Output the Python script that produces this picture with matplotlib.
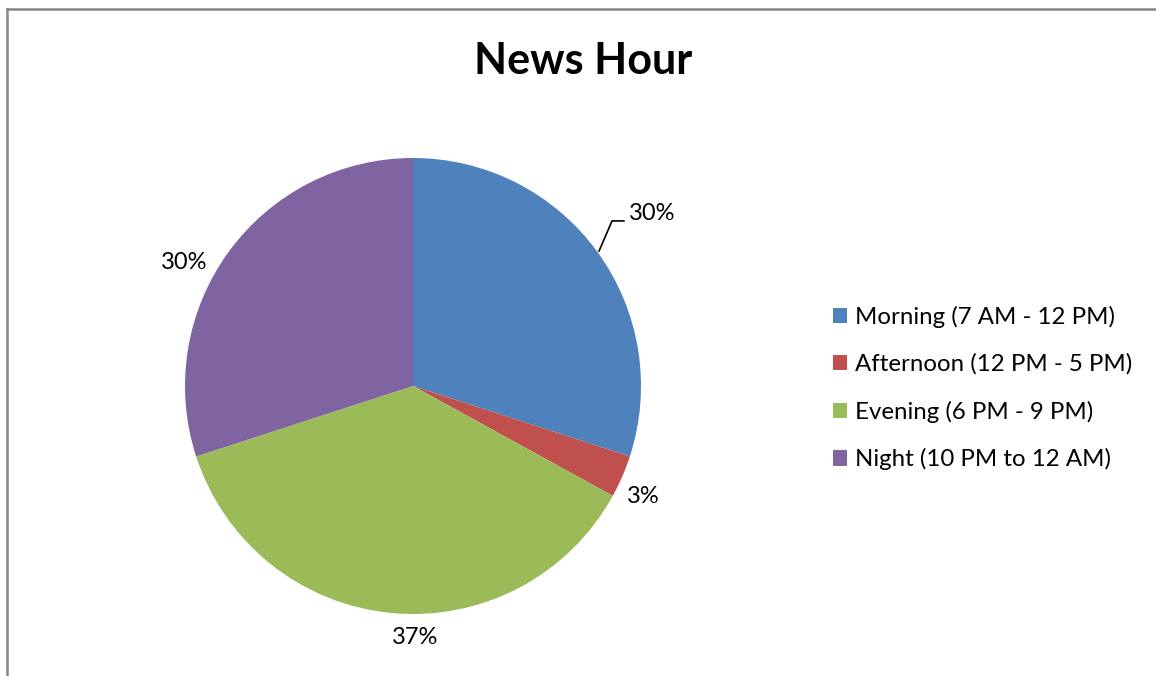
import matplotlib.pyplot as plt
from matplotlib.lines import Line2D
from matplotlib.patches import Patch

categories = ["Morning (7 AM - 12 PM)", "Afternoon (12 PM - 5 PM)",
              "Evening (6 PM - 9 PM)", "Night (10 PM to 12 AM)"]
shares = [30, 3, 37, 30]
colors = ["#4F81BD", "#C0504D", "#9BBB59", "#8064A2"]

# where each percentage label sits, in pie data units
label_pos = [(1.05, 0.755), (1.01, -0.485), (0.01, -1.105), (-1.005, 0.54)]

W, H = 1156, 676
plt.rcParams["font.family"] = ["Lato", "DejaVu Sans"]

fig = plt.figure(figsize=(W / 100, H / 100), dpi=100)

cx, cy, r = 413, 386, 228
ax = fig.add_axes([(cx - r - 40) / W, (H - cy - r - 40) / H,
                   2 * (r + 40) / W, 2 * (r + 40) / H])
ax.pie(shares, colors=colors, startangle=90, counterclock=False,
       radius=1.0, wedgeprops=dict(linewidth=0))
lim = (r + 40) / r
ax.set_xlim(-lim, lim)
ax.set_ylim(-lim, lim)
ax.set_aspect("equal")
ax.axis("off")

total = sum(shares)
for v, (lx, ly) in zip(shares, label_pos):
    ax.text(lx, ly, "{:.0f}%".format(100 * v / total), ha="center", va="center",
            fontsize=17, color="black")

# leader line for the first label
ax.plot([0.816, 0.873, 0.925], [0.592, 0.724, 0.724], color="black", lw=1.2)

fig.text(583 / W, 1 - 61 / H, "News Hour", ha="center", va="center",
         fontsize=31, fontweight="bold")

handles = [Patch(facecolor=c, edgecolor="none") for c in colors]
fig.legend(handles, categories, loc="center left",
           bbox_to_anchor=(833 / W, 1 - 388 / H), frameon=False,
           fontsize=17.3, handlelength=0.6, handleheight=0.6,
           handletextpad=0.3, labelspacing=1.07, borderaxespad=0,
           borderpad=0)

# chart frame, only top and left edges visible
fig.add_artist(Line2D([7 / W, 1], [1 - 9 / H, 1 - 9 / H], transform=fig.transFigure,
                      color="#868686", lw=1.8))
fig.add_artist(Line2D([7 / W, 7 / W], [0, 1 - 9 / H], transform=fig.transFigure,
                      color="#868686", lw=1.8))

fig.savefig("out.png", dpi=100)
